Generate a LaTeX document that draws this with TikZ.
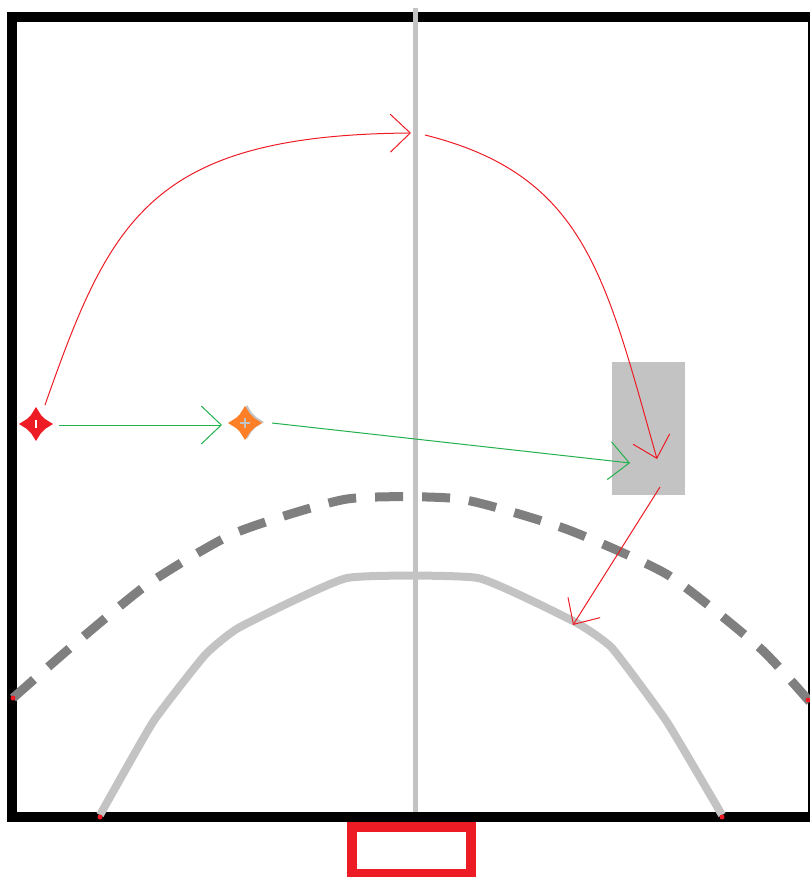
\documentclass[tikz,border=0pt]{standalone}
\usetikzlibrary{arrows.meta,calc}
\definecolor{pred}{RGB}{237,28,36}
\definecolor{pgreen}{RGB}{34,177,76}
\definecolor{porange}{RGB}{255,127,39}
\definecolor{pdark}{RGB}{127,127,127}
\definecolor{plight}{RGB}{195,195,195}
\tikzset{
  barb/.style={-{Straight Barb[length=20pt,width=38pt]}},
  redline/.style={draw=pred,line width=1pt,barb},
  greenline/.style={draw=pgreen,line width=1pt,barb},
  pics/star4/.style={code={
    \fill (17,0) -- (9,5) -- (5,9) -- (0,17) -- (-5,9) -- (-9,5) -- (-17,0) -- (-9,-5) -- (-5,-9) -- (0,-17) -- (5,-9) -- (9,-5) -- cycle;
  }},
  enddot/.style={fill=pred,draw=none}
}
\begin{document}
\begin{tikzpicture}[x=1pt,y=-1pt]
\useasboundingbox (0,0) rectangle (809,877);
% frame
\draw[line width=10pt,black] (12,17) rectangle (813,817);
% centre line
\draw[plight,line width=5pt] (415,8) -- (415,812);
% grey box
\fill[plight] (612,362) rectangle (685,495);
% dashed curve
\draw[pdark,line width=9pt,dash pattern=on 28pt off 19pt]
  plot[smooth,tension=0.35] coordinates {(13,698) (70,648) (148,584) (235,533) (347,499) (460,499) (566,529) (668,575) (760,648) (810,702)};
% light solid curve
\draw[plight,line width=8pt]
  plot[smooth,tension=0.25] coordinates {(100,815) (153,722) (205,655) (240,627) (347,578) (478,578) (575,622) (612,648) (667,722) (722,815)};
% end dots
\fill[enddot] (13,698) circle (2.5pt);
\fill[enddot] (808,700) circle (2.5pt);
\fill[enddot] (100,817) circle (2.5pt);
\fill[enddot] (722,817) circle (2.5pt);
% bottom red box
\draw[pred,line width=10pt] (352,827) rectangle (471,874);
% markers
\coordinate (R) at (36,424);
\coordinate (O) at (245,423);
\pic[pred] at (R) {star4};
\fill[white] (35,420) rectangle (37,428);
\pic[plight] at ($(O)+(2,-1)$) {star4};
\pic[porange] at (O) {star4};
\draw[plight,line width=1.2pt] (240,423) -- (250,423) (245,418) -- (245,428);
% connector end points
\coordinate (rs) at (45,405);
\coordinate (top) at (411,133);
\coordinate (top2) at (425,135);
\coordinate (boxr) at (657,459);
\coordinate (boxr2) at (660,487);
\coordinate (arc) at (573,625);
\coordinate (gs) at (59,425);
\coordinate (ge) at (222,425);
\coordinate (gs2) at (272,423);
\coordinate (ge2) at (630,463);
% red path
\draw[redline] (rs) .. controls (110,220) and (150,135) .. (top);
\draw[redline] (top2) .. controls (585,175) and (605,275) .. (boxr);
\draw[redline] (boxr2) -- (arc);
% green path
\draw[greenline] (gs) -- (ge);
\draw[greenline] (gs2) -- (ge2);
\end{tikzpicture}
\end{document}
